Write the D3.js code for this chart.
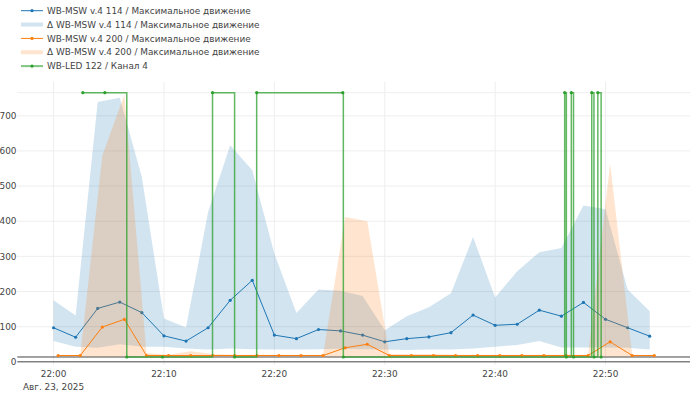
<!DOCTYPE html>
<html>
<head>
<meta charset="utf-8">
<script src="https://cdn.jsdelivr.net/npm/d3@7"></script>
<style>
  body { margin: 0; background: #fff; }
  svg { display: block; font-family: "DejaVu Sans", Verdana, sans-serif; }
  .tick-label { fill: #444; font-size: 8.9px; }
  .legend-text { fill: #444; font-size: 8.9px; }
</style>
</head>
<body>
<div id="chart"></div>
<script>
// WB-MSW v.4 114 — samples every 2 minutes
var blueTimes = ["22:00:00","22:02:00","22:04:00","22:06:00","22:08:00","22:10:00","22:12:00","22:14:00",
  "22:16:00","22:18:00","22:20:00","22:22:00","22:24:00","22:26:00","22:28:00","22:30:00","22:32:00",
  "22:34:00","22:36:00","22:38:00","22:40:00","22:42:00","22:44:00","22:46:00","22:48:00","22:50:00",
  "22:52:00","22:54:00"];
var blueAvg = [97,70,152,170,140,74,59,97,175,232,76,66,92,88,76,57,66,71,83,133,104,107,147,130,169,121,97,73];
var blueMax = [175,132,739,751,525,123,98,426,616,545,308,139,206,202,187,90,130,155,195,355,183,258,312,324,445,434,206,144];
var blueMin = [59,43,40,50,43,43,38,35,38,36,35,35,36,37,36,35,34,35,35,38,43,48,59,41,41,41,40,35];

// WB-MSW v.4 200
var orangeTimes = ["22:00:25","22:02:25","22:04:25","22:06:25","22:08:25","22:10:25","22:12:25","22:14:25",
  "22:16:25","22:18:25","22:20:25","22:22:25","22:24:25","22:26:25","22:28:25","22:30:25","22:32:25",
  "22:34:25","22:36:25","22:38:25","22:40:25","22:42:25","22:44:25","22:46:25","22:48:25","22:50:25",
  "22:52:25","22:54:25"];
var orangeAvg = [18,18,99,121,18,18,18,18,18,18,18,18,18,40,50,18,18,18,18,18,18,18,18,18,18,57,18,18];
var orangeMax = [18,18,587,760,25,20,30,22,20,20,20,20,20,412,400,22,22,22,20,20,20,20,20,20,20,564,18,18];
var orangeMin = [15,15,15,15,15,15,15,15,15,15,15,15,15,15,15,15,15,15,15,15,15,15,15,15,15,15,15,15];

// WB-LED 122 / Канал 4 (on/off, right axis)
var greenTimes = ["22:02:39","22:04:39","22:06:38","22:09:52","22:14:24","22:16:24","22:18:24","22:26:12",
  "22:26:15","22:46:18","22:46:27","22:46:54","22:47:06","22:48:45","22:48:57","22:49:18","22:49:36"];
var greenVal = [1,1,0,0,1,0,1,1,0,1,0,1,0,1,0,1,0];

var xTicks = ["22:00","22:10","22:20","22:30","22:40","22:50"];
var yTicks = [0,100,200,300,400,500,600,700];
var legendNames = [
  "WB-MSW v.4 114 / Максимальное движение",
  "Δ WB-MSW v.4 114 / Максимальное движение",
  "WB-MSW v.4 200 / Максимальное движение",
  "Δ WB-MSW v.4 200 / Максимальное движение",
  "WB-LED 122 / Канал 4"
];

var W = 690, H = 396;
var plot = {left: 17.3, right: 690, top: 81.7, bottom: 365};
var day = "2025-08-23T";
var parseT = d3.timeParse("%Y-%m-%dT%H:%M:%S");
var toDate = s => parseT(day + (s.length === 5 ? s + ":00" : s));

var blue = blueTimes.map((t, i) => ({t: toDate(t), v: blueAvg[i], lo: blueMin[i], hi: blueMax[i]}));
var orange = orangeTimes.map((t, i) => ({t: toDate(t), v: orangeAvg[i], lo: orangeMin[i], hi: orangeMax[i]}));
var green = greenTimes.map((t, i) => ({t: toDate(t), v: greenVal[i]}));

var x = d3.scaleTime()
  .domain([d3.timeSecond.offset(toDate("22:00"), -197), d3.timeSecond.offset(toDate("22:00"), 3459)])
  .range([plot.left, plot.right]);
var y = d3.scaleLinear().domain([-9, 797]).range([plot.bottom, plot.top]);
var y2 = d3.scaleLinear().domain([-0.0303, 1.0416]).range([plot.bottom, plot.top]);

var svg = d3.select("#chart").append("svg")
  .attr("width", W).attr("height", H);

// grid
var grid = svg.append("g");
grid.selectAll(".vg").data(xTicks).enter().append("line")
  .attr("x1", d => x(toDate(d))).attr("x2", d => x(toDate(d)))
  .attr("y1", plot.top).attr("y2", plot.bottom)
  .attr("stroke", "#eee").attr("stroke-width", 1);
grid.selectAll(".hg").data(yTicks.filter(d => d > 0)).enter().append("line")
  .attr("x1", plot.left).attr("x2", plot.right)
  .attr("y1", d => y(d)).attr("y2", d => y(d))
  .attr("stroke", "#eee").attr("stroke-width", 1);
grid.append("line")
  .attr("x1", plot.left).attr("x2", plot.right)
  .attr("y1", y2(1)).attr("y2", y2(1))
  .attr("stroke", "#eee").attr("stroke-width", 1);

// zero lines
svg.append("line")
  .attr("x1", plot.left).attr("x2", plot.right)
  .attr("y1", y(0)).attr("y2", y(0))
  .attr("stroke", "#444").attr("stroke-width", 1);
svg.append("line")
  .attr("x1", plot.left).attr("x2", plot.right)
  .attr("y1", y2(0)).attr("y2", y2(0))
  .attr("stroke", "#444").attr("stroke-width", 1);

var line = d3.line().x(d => x(d.t)).y(d => y(d.v));
var band = d3.area().x(d => x(d.t)).y0(d => y(d.lo)).y1(d => y(d.hi));

function drawSeries(data, color, fill) {
  svg.append("path").datum(data)
    .attr("d", line).attr("fill", "none")
    .attr("stroke", color).attr("stroke-width", 1);
  svg.append("g").selectAll("circle").data(data).enter().append("circle")
    .attr("cx", d => x(d.t)).attr("cy", d => y(d.v)).attr("r", 1.6)
    .attr("fill", color);
  svg.append("path").datum(data)
    .attr("d", band).attr("fill", fill).attr("stroke", "none");
}

drawSeries(blue, "#1f77b4", "rgba(31,119,180,0.2)");
drawSeries(orange, "#ff7f0e", "rgba(255,127,14,0.2)");

// green step
var greenLine = d3.line().curve(d3.curveStepAfter).x(d => x(d.t)).y(d => y2(d.v));
svg.append("path").datum(green)
  .attr("d", greenLine).attr("fill", "none")
  .attr("stroke", "#2ca02c").attr("stroke-width", 1.5).attr("stroke-opacity", 0.75);
svg.append("g").selectAll("circle").data(green).enter().append("circle")
  .attr("cx", d => x(d.t)).attr("cy", d => y2(d.v)).attr("r", 1.6)
  .attr("fill", "#2ca02c");

// y tick labels
svg.append("g").selectAll("text").data(yTicks).enter().append("text")
  .attr("class", "tick-label")
  .attr("x", 16.5).attr("y", d => y(d)).attr("dy", "0.35em")
  .attr("text-anchor", "end")
  .text(d => d);

// x tick labels
svg.append("g").selectAll("text").data(xTicks).enter().append("text")
  .attr("class", "tick-label")
  .attr("x", d => x(toDate(d))).attr("y", 377)
  .attr("text-anchor", "middle")
  .text(d => d);
svg.append("text").attr("class", "tick-label")
  .attr("x", x(toDate(xTicks[0]))).attr("y", 390)
  .attr("text-anchor", "middle")
  .text("Авг. 23, 2025");

// legend
var legendColors = ["#1f77b4", "#1f77b4", "#ff7f0e", "#ff7f0e", "#2ca02c"];
var legendBand = [false, true, false, true, false];
var lg = svg.append("g").selectAll("g").data(legendNames).enter().append("g")
  .attr("transform", (d, i) => `translate(0,${10.7 + i * 13.85})`);
lg.each(function(d, i) {
  var g = d3.select(this);
  if (legendBand[i]) {
    g.append("rect").attr("x", 21).attr("y", -2).attr("width", 22).attr("height", 4)
      .attr("fill", legendColors[i]).attr("fill-opacity", 0.2);
  } else {
    g.append("line").attr("x1", 21).attr("x2", 43).attr("y1", 0).attr("y2", 0)
      .attr("stroke", legendColors[i]).attr("stroke-width", i === 4 ? 2 : 1)
      .attr("stroke-opacity", i === 4 ? 0.6 : 1);
    g.append("circle").attr("cx", 32).attr("cy", 0).attr("r", 1.6).attr("fill", legendColors[i]);
  }
  g.append("text").attr("class", "legend-text")
    .attr("x", 47).attr("y", 0).attr("dy", "0.35em")
    .text(d);
});
</script>
</body>
</html>
